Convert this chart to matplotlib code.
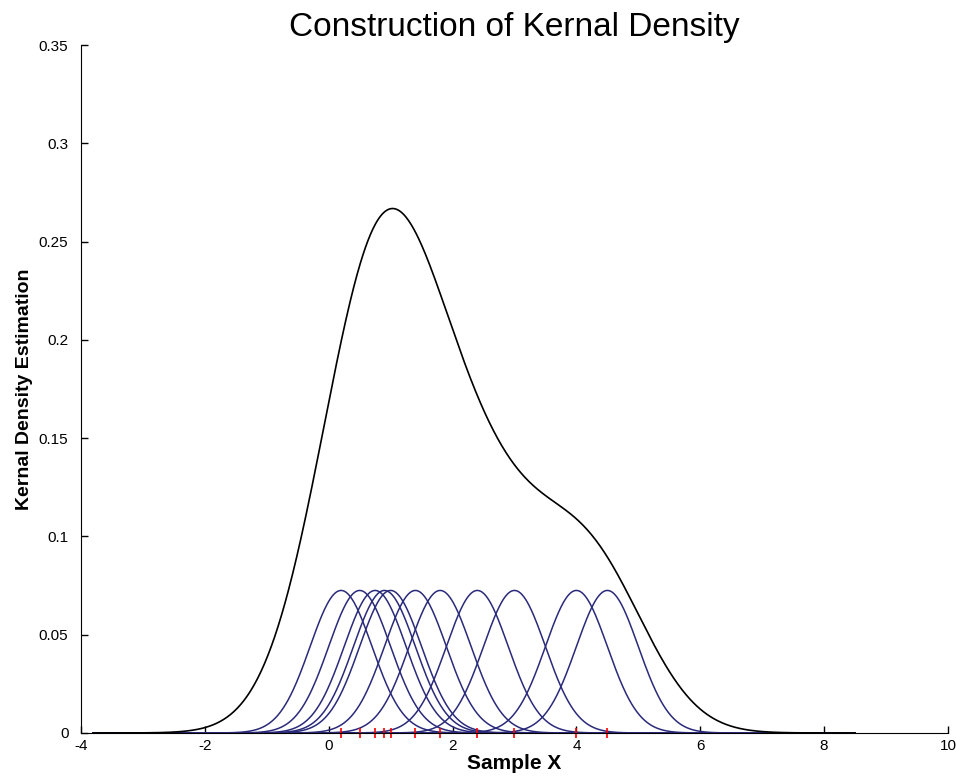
import numpy as np
import matplotlib.pyplot as plt

plt.rcParams['font.family'] = ['Liberation Sans', 'DejaVu Sans']
plt.rcParams['axes.unicode_minus'] = False

# sample points
samples = [0.2, 0.5, 0.75, 0.9, 1.0, 1.4, 1.8, 2.4, 3.0, 4.0, 4.5]
kernel_bw = 0.5      # width of the individual (blue) kernels
density_bw = 0.86    # width used for the black estimate
x_range = [-3.8, 8.5]

xticks = [-4, -2, 0, 2, 4, 6, 8, 10]
yticks = [0, 0.05, 0.1, 0.15, 0.2, 0.25, 0.3, 0.35]
ytick_labels = ['0', '0.05', '0.1', '0.15', '0.2', '0.25', '0.3', '0.35']


def gauss(x, mu, h):
    return np.exp(-0.5 * ((x - mu) / h) ** 2) / (h * np.sqrt(2 * np.pi))


x = np.linspace(x_range[0], x_range[1], 900)
n = len(samples)

fig = plt.figure(figsize=(9.56, 7.8), dpi=100)
ax = fig.add_axes([0.0847, 0.0603, 0.9069, 0.8817])

total = np.zeros_like(x)
for s in samples:
    ax.plot(x, gauss(x, s, kernel_bw) / n, color='#2a2a7a', lw=1.1)
    total += gauss(x, s, density_bw) / n

ax.plot(x, total, color='black', lw=1.2)
ax.plot(samples, np.zeros(n), linestyle='none', marker='|', color='red',
        markersize=7, markeredgewidth=1.2, clip_on=False)

ax.set_xlim(-4, 10)
ax.set_ylim(0, 0.35)
ax.set_xticks(xticks)
ax.set_yticks(yticks)
ax.set_yticklabels(ytick_labels)
ax.tick_params(direction='in', length=5, labelsize=11, width=1)
ax.tick_params(axis='y', pad=9)
ax.tick_params(axis='x', pad=4)
ax.spines['top'].set_visible(False)
ax.spines['right'].set_visible(False)

ax.set_title('Construction of Kernal Density', fontsize=24, pad=7)
ax.set_xlabel('Sample X', fontsize=15, fontweight='bold', labelpad=1)
ax.set_ylabel('Kernal Density Estimation', fontsize=14, fontweight='bold', labelpad=4)

fig.savefig('out.png', dpi=100)
